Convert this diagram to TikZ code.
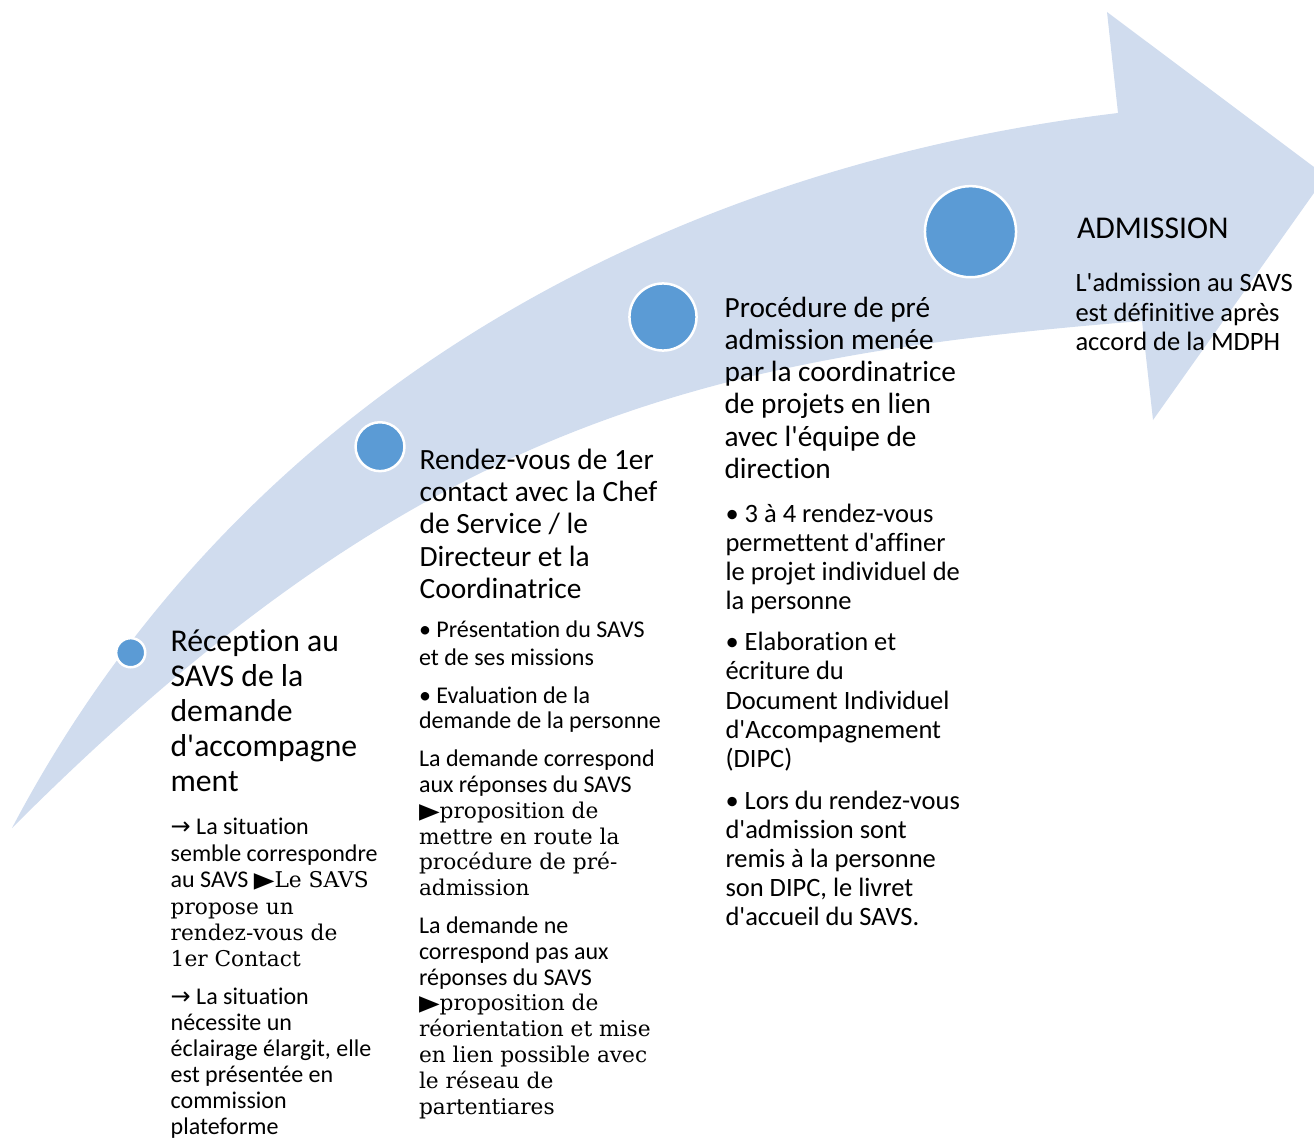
\documentclass[tikz,border=0pt]{standalone}
\usepackage{fontspec}
\usepackage{graphicx}
\newfontfamily\calib{Carlito}[Ligatures={TeXOff,NoCommon}]
\newfontfamily\serf{DejaVu Serif}
\newfontfamily\djs{DejaVu Sans}
\definecolor{band}{RGB}{208,220,238}
\definecolor{dot}{RGB}{91,155,213}
\newcommand\tri{{\djs\scalebox{1.12}[0.9]{\char"25B6}}}
\newcommand\arr{{\djs\char"2192}}
\newcommand\sr[1]{{\serf\fontsize{21.7}{\baselineskip}\selectfont #1}}
\newcommand\para[3]{\parbox[t]{330pt}{\raggedright\calib\fontsize{#1}{#2}\selectfont #3}}
\tikzset{
  dotstyle/.style={circle, fill=dot, draw=white, line width=2.5pt, inner sep=0pt},
  txt/.style={anchor=base west, inner sep=0pt, outer sep=0pt}
}
\begin{document}
\begin{tikzpicture}[x=1pt,y=-1pt]
\useasboundingbox (0,0) rectangle (1314,1139);
\clip (0,0) rectangle (1314,1139);
% curved arrow
\fill[band] (12,828) .. controls (242,391) and (668,167) .. (1118,113)
  -- (1107,12) -- (1326,176) -- (1153,420) -- (1142,321)
  .. controls (692,357) and (412,428) .. (12,828) -- cycle;
% dots
\node[dotstyle, minimum size=29.1pt] (d1) at (130.7,652.7) {};
\node[dotstyle, minimum size=48.9pt] (d2) at (380,446.7) {};
\node[dotstyle, minimum size=67.1pt] (d3) at (663,317) {};
\node[dotstyle, minimum size=91.1pt] (d4) at (970.5,231.7) {};
% column 1
\node[txt] (h1) at (170.6,651.6) {\para{31.7}{35}{Réception au\\SAVS de la\\demande\\d'accompagne\\ment}};
\node[txt] (b1a) at (170.7,834.8) {\para{24}{26.4}{\arr{} La situation\\semble correspondre\\au SAVS \tri\sr{Le SAVS\\propose un\\rendez-vous de\\1er Contact}}};
\node[txt] (b1b) at (170.7,1004) {\para{24}{26.1}{\arr{} La situation\\nécessite un\\éclairage élargit, elle\\est présentée en\\commission\\plateforme}};
% column 2
\node[txt] (h2) at (419.6,469.3) {\para{29.4}{32.3}{Rendez-vous de 1er\\contact avec la Chef\\de Service / le\\Directeur et la\\Coordinatrice}};
\node[txt] (b2a) at (419,637.8) {\para{24}{27.5}{• Présentation du SAVS\\et de ses missions}};
\node[txt] (b2b) at (419,703.1) {\para{24}{25.8}{• Evaluation de la\\demande de la personne}};
\node[txt] (b2c) at (419,766.7) {\para{24}{25.8}{La demande correspond\\aux réponses du SAVS\\\tri\sr{proposition de\\mettre en route la\\procédure de pré-\\admission}}};
\node[txt] (b2d) at (419,933.4) {\para{24}{25.8}{La demande ne\\correspond pas aux\\réponses du SAVS\\\tri\sr{proposition de\\réorientation et mise\\en lien possible avec\\le réseau de\\partentiares}}};
% column 3
\node[txt] (h3) at (724.6,317.7) {\para{29.3}{32.1}{Procédure de pré\\admission menée\\par la coordinatrice\\de projets en lien\\avec l'équipe de\\direction}};
\node[txt] (b3a) at (725.5,522.3) {\para{26.5}{28.9}{• 3 à 4 rendez-vous\\permettent d'affiner\\le projet individuel de\\la personne}};
\node[txt] (b3b) at (725.5,650.7) {\para{26.5}{29.25}{• Elaboration et\\écriture du\\Document Individuel\\d'Accompagnement\\(DIPC)}};
\node[txt] (b3c) at (725.5,809) {\para{26.5}{29.2}{• Lors du rendez-vous\\d'admission sont\\remis à la personne\\son DIPC, le livret\\d'accueil du SAVS.}};
% column 4
\node[txt] (h4) at (1077,238.3) {\para{31.7}{35}{ADMISSION}};
\node[txt] (b4) at (1075.5,291.7) {\para{26.5}{29.5}{L'admission au SAVS\\est définitive après\\accord de la MDPH}};
\end{tikzpicture}
\end{document}
